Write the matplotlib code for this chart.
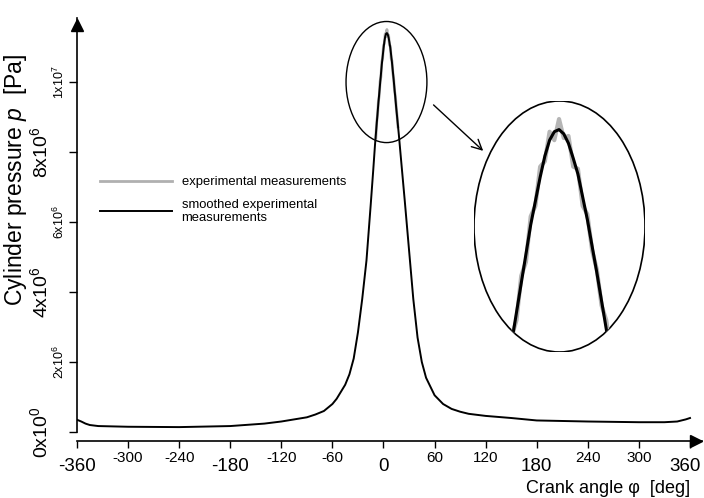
import matplotlib
matplotlib.use('Agg')
import matplotlib.pyplot as plt
from matplotlib.patches import Ellipse
import numpy as np

plt.rcParams['font.family'] = 'Liberation Sans'
plt.rcParams['mathtext.fontset'] = 'custom'
plt.rcParams['mathtext.rm'] = 'Liberation Sans'
plt.rcParams['mathtext.it'] = 'Liberation Sans:italic'

# smoothed cylinder pressure, crank angle [deg] vs pressure [MPa]
angle = [-360, -355, -350, -345, -335, -300, -240, -180, -140, -120, -100, -90,
         -80, -70, -60, -55, -50, -45, -40, -35, -30, -25, -20, -15, -12, -10,
         -8, -6, -4, -2, 0, 1, 2, 3, 4, 5, 6, 7, 8, 10, 12, 15, 18, 20, 25, 30,
         35, 40, 45, 50, 60, 70, 80, 90, 100, 120, 150, 180, 240, 300, 330, 345,
         355, 360]
smooth_mpa = [0.35, 0.30, 0.24, 0.20, 0.17, 0.15, 0.14, 0.17, 0.24, 0.30, 0.38, 0.42,
              0.50, 0.60, 0.80, 0.95, 1.15, 1.35, 1.65, 2.10, 2.85, 3.80, 4.90, 6.50, 7.50, 8.20,
              8.80, 9.40, 9.95, 10.50, 10.95, 11.15, 11.30, 11.38, 11.40, 11.36, 11.27, 11.13, 10.98, 10.55, 10.05, 9.25, 8.50, 7.95, 6.60, 5.20,
              3.80, 2.70, 2.00, 1.55, 1.05, 0.80, 0.66, 0.58, 0.52, 0.46, 0.40, 0.33, 0.30, 0.28, 0.28, 0.30,
              0.36, 0.40]

# raw measurements around the peak
exp_angle = [-9, -8, -7, -6, -5, -4, -3, -2, -1, 0, 1, 2, 3, 4, 5, 6, 7, 8, 9,
             10, 11, 12, 13, 14, 15, 16, 17]
exp_mpa = [8.40, 8.85, 9.05, 9.45, 9.60, 10.02, 10.15, 10.58, 10.68, 11.05, 11.10, 11.38,
           11.30, 11.50, 11.32, 11.34, 11.05, 11.03, 10.68, 10.60, 10.26, 10.08, 9.74, 9.60,
           9.27, 9.02, 8.72]

xbig = [-360, -180, 0, 180, 360]
xsmall = [-300, -240, -120, -60, 60, 120, 240, 300]
ybig = [0, 4e6, 8e6]
ybig_lab = ['0x10$^0$', '4x10$^6$', '8x10$^6$']
ysmall = [2e6, 6e6, 1e7]
ysmall_lab = ['2x10$^6$', '6x10$^6$', '1x10$^7$']

p_smooth = np.array(smooth_mpa) * 1e6
p_exp = np.array(exp_mpa) * 1e6

fig = plt.figure(figsize=(7.04, 4.98), dpi=100)
ax = fig.add_axes([77/704, 57/498, 625/704, 423/498])
ytop = 11.83e6
ax.set_xlim(-360, 374.1)
ax.set_ylim(-0.257e6, ytop)

l_exp, = ax.plot(exp_angle, p_exp, color='#b0b0b0', lw=2)
l_sm, = ax.plot(angle, p_smooth, color='black', lw=1.4)

for s in ['top', 'right']:
    ax.spines[s].set_visible(False)
ax.spines['left'].set_bounds(0, ytop)
ax.spines['left'].set_linewidth(1.2)
ax.spines['bottom'].set_linewidth(1.2)
ax.plot([-360], [ytop - 0.2e6], marker='^', ms=8, color='black', clip_on=False)
ax.plot([367], [-0.257e6], marker='>', ms=8, color='black', clip_on=False)

ax.set_xticks(xbig + xsmall)
ax.set_yticks(ybig + ysmall)
ax.tick_params(labelbottom=False, labelleft=False, direction='out')
ax.tick_params(axis='y', length=6, width=1)
ax.tick_params(axis='x', length=5, width=1)

for v in xbig:
    # last label sits right at the image edge, nudge it in a bit
    dx = -5 if v == 360 else 0
    ax.annotate(str(v), xy=(v, 0), xycoords=ax.get_xaxis_transform(), xytext=(dx, -25),
                textcoords='offset pixels', ha='center', va='center', fontsize=13.5)
for v in xsmall:
    ax.annotate(str(v), xy=(v, 0), xycoords=ax.get_xaxis_transform(), xytext=(0, -17),
                textcoords='offset pixels', ha='center', va='center', fontsize=11)
for v, t in zip(ybig, ybig_lab):
    ax.annotate(t, xy=(0, v), xycoords=ax.get_yaxis_transform(), xytext=(-37, 0),
                textcoords='offset pixels', ha='center', va='center', rotation=90, fontsize=14)
for v, t in zip(ysmall, ysmall_lab):
    ax.annotate(t, xy=(0, v), xycoords=ax.get_yaxis_transform(), xytext=(-18, 0),
                textcoords='offset pixels', ha='center', va='center', rotation=90, fontsize=9)

fig.text(16/704, 1 - 180/498, 'Cylinder pressure $p$  [Pa]', rotation=90,
         ha='center', va='center', fontsize=16.5)
fig.text(690/704, 1 - 488/498, 'Crank angle \u03c6  [deg]', ha='right', va='center',
         fontsize=13)

ax.legend([l_exp, l_sm], ['experimental measurements', 'smoothed experimental\nmeasurements'],
          loc='upper left', bbox_to_anchor=(100/704, 1 - 176/498), bbox_transform=fig.transFigure,
          frameon=False, fontsize=9.4, handlelength=5.5, handletextpad=0.75,
          labelspacing=0.8, borderpad=0, borderaxespad=0)

# marked region around the peak and pointer to the zoom
ax.add_patch(Ellipse((3.5, 10.0e6), 95, 3.46e6, fill=False, lw=1, color='black'))
ax.annotate('', xy=(119.5, 7.98e6), xytext=(56.4, 9.4e6),
            arrowprops=dict(arrowstyle='->', color='black', lw=1, mutation_scale=18))

# zoomed view of the peak
ins = fig.add_axes([474/704, 146/498, 171/704, 251/498])
ins.axis('off')
ins.set_xlim(-14.0, 22.2)
ins.set_ylim(9.3e6, 11.67e6)
ell = Ellipse((0.5, 0.5), 1, 1, transform=ins.transAxes, fill=False, lw=1.2, color='black')
ins.add_patch(ell)
g, = ins.plot(exp_angle, p_exp, color='#b5b5b5', lw=3)
b, = ins.plot(angle, p_smooth, color='black', lw=2.2)
g.set_clip_path(ell)
b.set_clip_path(ell)

fig.savefig('out.png', dpi=100)
